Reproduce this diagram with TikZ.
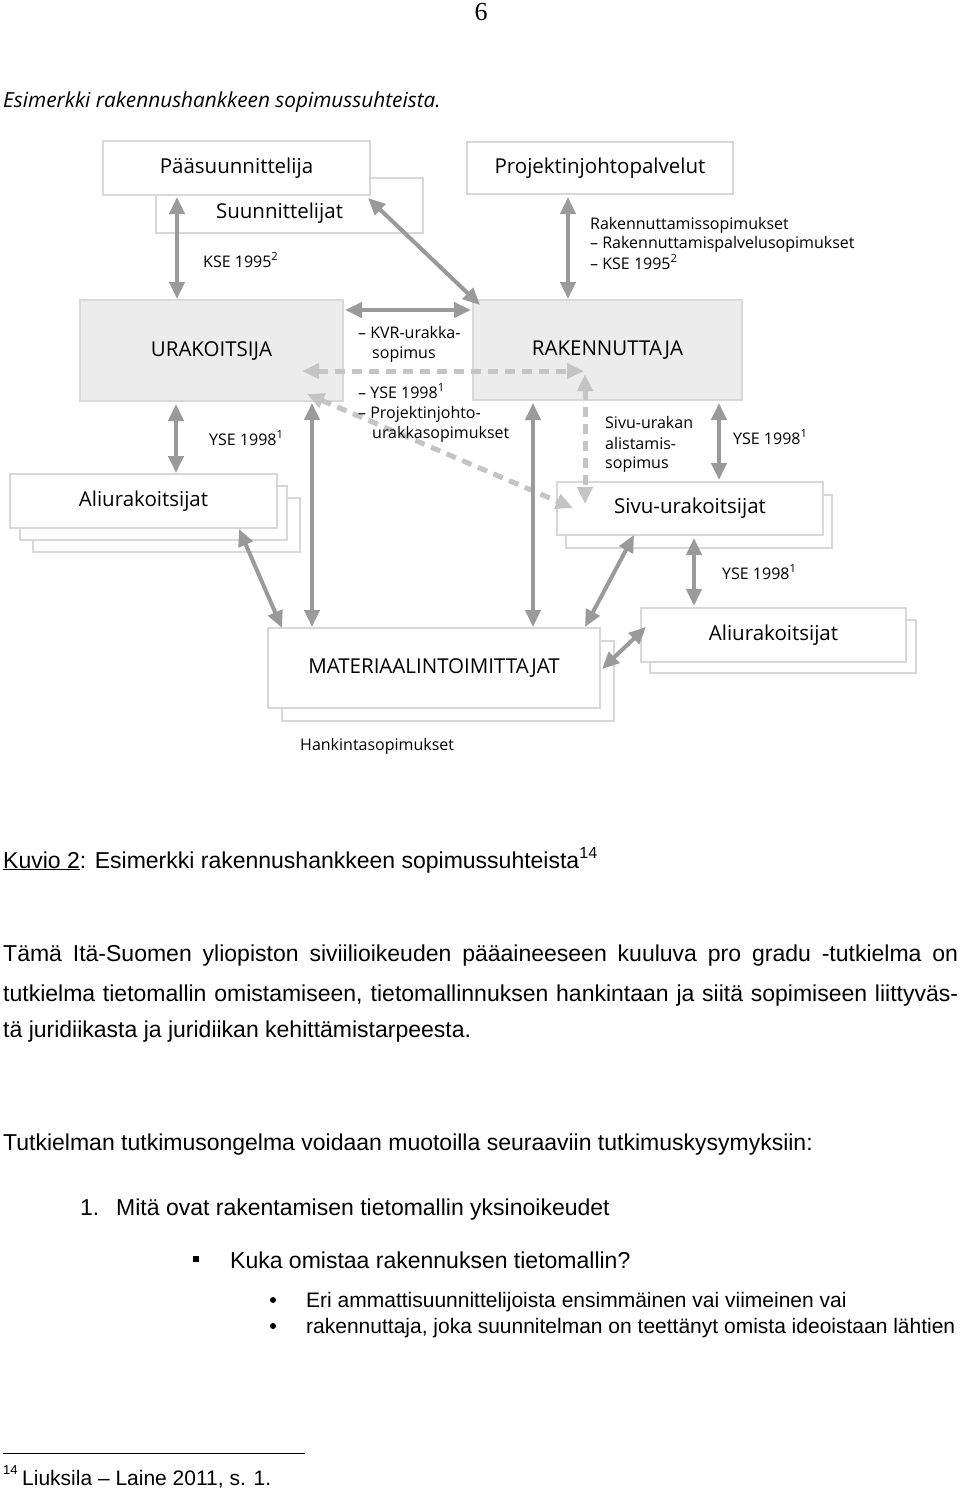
\documentclass[tikz,border=0pt]{standalone}
\usepackage{fontspec}
\setmainfont{Liberation Sans}
\newfontfamily\diagf{Open Sans}
\newfontfamily\pgnumf{Liberation Serif}
\usetikzlibrary{arrows.meta,calc}
\definecolor{arrc}{HTML}{9A9A9A}
\definecolor{darrc}{HTML}{C4C4C4}
\definecolor{boxline}{HTML}{D8D8D8}
\definecolor{gboxc}{HTML}{ECECEC}
\tikzset{
  x=1pt, y=-1pt,
  box/.style={draw=boxline, line width=1.5pt, fill=white, inner sep=0pt, outer sep=0pt, anchor=north west,
    font=\diagf\fontsize{20.5}{24}\selectfont},
  graybox/.style={box, fill=gboxc, draw=gboxc!92!black},
  tipa/.tip={Triangle[length=17pt,width=15pt]},
  dbl/.style={draw=arrc, line width=4pt, tipa-tipa},
  dsh/.style={draw=darrc, line width=5pt, dash pattern=on 10pt off 7pt, tipa-tipa},
  lbl/.style={font=\diagf\fontsize{16}{20}\selectfont, anchor=base west, inner sep=0pt},
  body/.style={font=\fontsize{23}{28}\selectfont, anchor=base west, inner sep=0pt},
  bodys/.style={font=\fontsize{21}{26}\selectfont, anchor=base west, inner sep=0pt},
}
\begin{document}
\begin{tikzpicture}
\useasboundingbox (0,0) rectangle (960,1491);
% page number
\node[font=\pgnumf\fontsize{26}{30}\selectfont, inner sep=0pt] (pg) at (481,12) {6};
% title
\node[font=\diagf\itshape\fontsize{20.8}{24}\selectfont, anchor=base west, inner sep=0pt] (ttl) at (3,107) {Esimerkki rakennushankkeen sopimussuhteista.};

% boxes (back ones first)
\node[box, minimum width=267pt, minimum height=55pt] (su) at (156,178) {\raisebox{-8pt}[0.7em][0.2em]{\hspace*{-20pt}Suunnittelijat}};
\node[box, minimum width=267pt, minimum height=54pt] (pp) at (103,141) {Pääsuunnittelija};
\node[box, minimum width=266pt, minimum height=52pt] (pjp) at (467,142) {Projektinjohtopalvelut};
\node[graybox, minimum width=263pt, minimum height=101pt] (ura) at (80,300) {URAKOITSIJA};
\node[graybox, minimum width=269pt, minimum height=100pt] (rak) at (473,300) {RAKENNUTTAJA};
\node[box, minimum width=267pt, minimum height=54pt] (ali1c) at (33,498) {};
\node[box, minimum width=267pt, minimum height=54pt] (ali1b) at (20,486) {};
\node[box, minimum width=267pt, minimum height=54pt] (ali1) at (10,474) {Aliurakoitsijat};
\node[box, minimum width=266pt, minimum height=53pt] (sivub) at (566,495) {};
\node[box, minimum width=266pt, minimum height=53pt] (sivu) at (557,482) {Sivu-urakoitsijat};
\node[box, minimum width=332pt, minimum height=80pt] (matb) at (282,641) {};
\node[box, minimum width=332pt, minimum height=80pt] (mat) at (268,628) {MATERIAALINTOIMITTAJAT};
\node[box, minimum width=266pt, minimum height=53pt] (ali2b) at (650,620) {};
\node[box, minimum width=265pt, minimum height=54pt] (ali2) at (641,608) {Aliurakoitsijat};

% dashed connectors
\draw[dsh] ($(ura.north west)+(222,71)$) -- ($(rak.north west)+(111,71)$);
\draw[dsh] ($(rak.north west)+(112,74)$) -- ($(sivu.north west)+(28,22)$);
\draw[dsh] ($(ura.north west)+(227,94)$) -- ($(sivu.north west)+(16,26)$);

% solid connectors
\draw[dbl] ($(pp.south west)+(74,2)$) -- ($(ura.north west)+(97,-1)$);
\draw[dbl] ($(pjp.south west)+(101,3)$) -- ($(rak.north west)+(95,-1)$);
\draw[dbl] ($(pp.south east)+(-2,3)$) -- ($(rak.north west)+(7,5)$);
\draw[dbl] ($(ura.north east)+(2,10)$) -- ($(rak.north west)+(-2,10)$);
\draw[dbl] ($(ura.south west)+(96,3)$) -- ($(ali1.north west)+(166,-1)$);
\draw[dbl] ($(ura.south west)+(232,2)$) -- ($(mat.north west)+(44,-1)$);
\draw[dbl] ($(rak.south west)+(60,3)$) -- ($(mat.north west)+(265,-1)$);
\draw[dbl] ($(rak.south west)+(246,3)$) -- ($(sivu.north west)+(162,-2)$);
\draw[dbl] ($(ali1.south west)+(229,1)$) -- ($(mat.north west)+(14,0)$);
\draw[dbl] ($(mat.north west)+(317,-1)$) -- ($(sivu.south west)+(77,0)$);
\draw[dbl] ($(sivu.south west)+(137,3)$) -- ($(ali2.north west)+(53,-2)$);
\draw[dbl] ($(mat.north east)+(2,41)$) -- ($(ali2.north west)+(5,19)$);

% connector labels
\node[lbl] (l1) at (203,267) {KSE 1995\textsuperscript{2}};
\node[lbl] (l2) at (590,229) {Rakennuttamissopimukset};
\node[lbl] (l3) at (590,248) {– Rakennuttamispalvelusopimukset};
\node[lbl] (l4) at (590,269) {– KSE 1995\textsuperscript{2}};
\node[lbl] (l5) at (358,338) {– KVR-urakka-};
\node[lbl] (l6) at (372,358) {sopimus};
\node[lbl] (l7) at (358,398) {– YSE 1998\textsuperscript{1}};
\node[lbl] (l8) at (358,418) {– Projektinjohto-};
\node[lbl] (l9) at (372,438) {urakkasopimukset};
\node[lbl] (l10) at (605,428) {Sivu-urakan};
\node[lbl] (l11) at (605,449) {alistamis-};
\node[lbl] (l12) at (605,468) {sopimus};
\node[lbl] (l13) at (733,444) {YSE 1998\textsuperscript{1}};
\node[lbl] (l14) at (209,445) {YSE 1998\textsuperscript{1}};
\node[lbl] (l15) at (722,579) {YSE 1998\textsuperscript{1}};
\node[lbl] (l16) at (300,750) {Hankintasopimukset};

% body text
\node[body] (cap) at (3,868) {\underline{Kuvio 2}: Esimerkki rakennushankkeen sopimussuhteista\textsuperscript{14}};
\node[body] (p1) at (3,961) {\makebox[955pt][s]{Tämä Itä-Suomen yliopiston siviilioikeuden pääaineeseen kuuluva pro gradu -tutkielma on}};
\node[body] (p2) at (3,1001) {\makebox[955pt][s]{tutkielma tietomallin omistamiseen, tietomallinnuksen hankintaan ja siitä sopimiseen liittyväs-}};
\node[body] (p3) at (3,1037) {tä juridiikasta ja juridiikan kehittämistarpeesta.};
\node[body] (q) at (3,1150) {Tutkielman tutkimusongelma voidaan muotoilla seuraaviin tutkimuskysymyksiin:};
\node[body] (n1) at (80,1215) {1.};
\node[body] (t1) at (116,1215) {Mitä ovat rakentamisen tietomallin yksinoikeudet};
\node[fill=black, minimum size=6pt, inner sep=0pt] (sq) at (196,1259) {};
\node[body] (t2) at (230,1268) {Kuka omistaa rakennuksen tietomallin?};
\node[circle, fill=black, minimum size=6pt, inner sep=0pt] (b1) at (273,1300) {};
\node[bodys] (t3) at (306,1307) {Eri ammattisuunnittelijoista ensimmäinen vai viimeinen vai};
\node[circle, fill=black, minimum size=6pt, inner sep=0pt] (b2) at (273,1326) {};
\node[bodys] (t4) at (306,1333) {rakennuttaja, joka suunnitelman on teettänyt omista ideoistaan lähtien};
% footnote
\coordinate (fr1) at (3,1453);
\coordinate (fr2) at (305,1453);
\draw[line width=1pt] (fr1) -- (fr2);
\node[font=\fontsize{13}{16}\selectfont, anchor=base west, inner sep=0pt] (fn) at (3,1474) {14};
\node[font=\fontsize{21}{24}\selectfont, anchor=base west, inner sep=0pt] (ft) at (22,1485) {Liuksila – Laine 2011, s. 1.};
\end{tikzpicture}
\end{document}
